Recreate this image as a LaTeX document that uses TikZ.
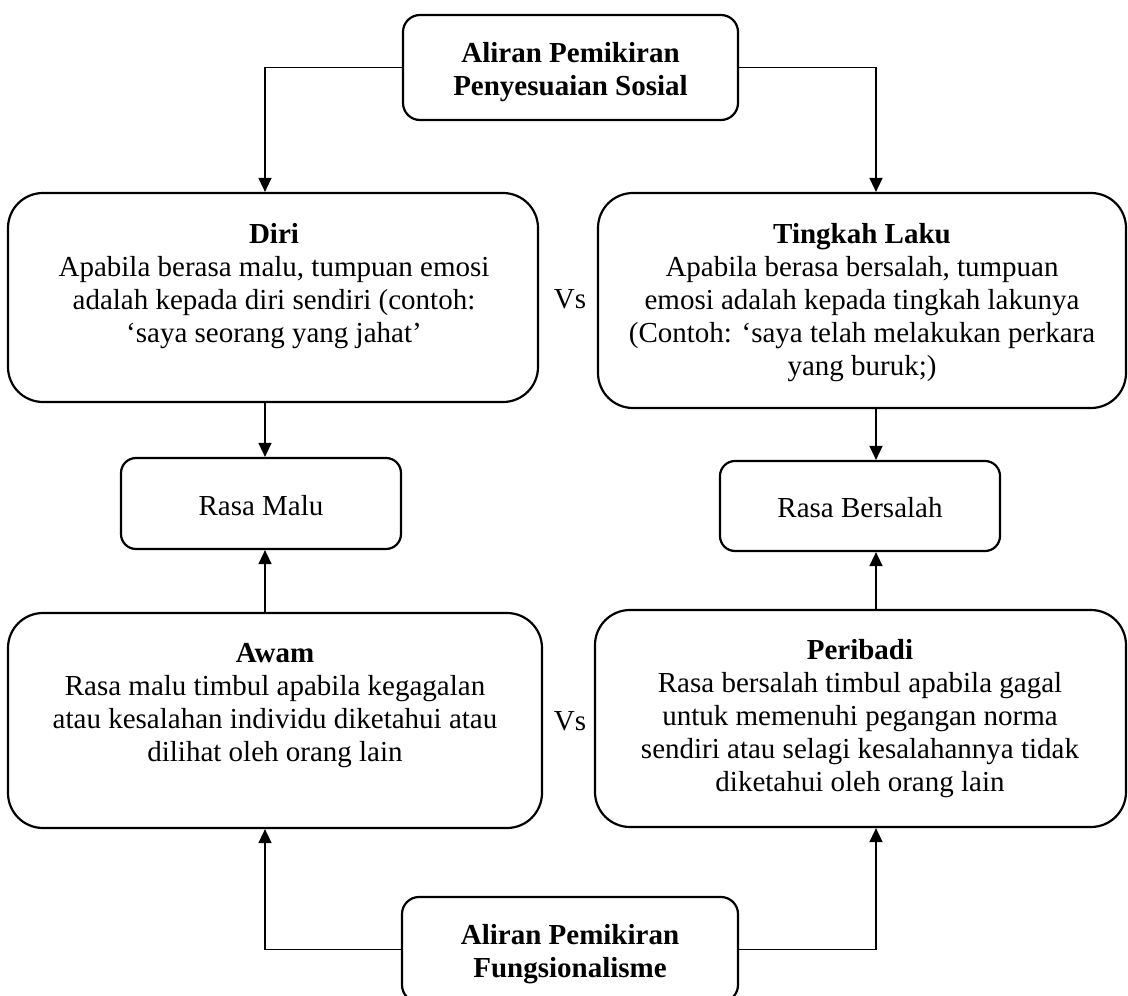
\documentclass[tikz,border=0pt]{standalone}
\usepackage{fontspec}
\setmainfont{Liberation Serif}
\usetikzlibrary{arrows.meta}
\begin{document}
\begin{tikzpicture}[x=1pt,y=-1pt,
  box/.style={draw, line width=2.2pt, rounded corners=#1, inner sep=0pt},
  box/.default=17pt,
  txt/.style={align=center, inner sep=0pt, anchor=base, font=\fontsize{29}{33}\selectfont},
  arr/.style={line width=1.5pt, -{Triangle[length=14pt,width=13pt]}}
]
\useasboundingbox (0,0) rectangle (1128,996);
\fill[white] (0,0) rectangle (1128,996);

% boxes
\node[box, minimum width=335pt, minimum height=105pt] (top) at (570.5,67.5) {};
\node[box=35pt, minimum width=530pt, minimum height=209pt] (diri) at (273,297.5) {};
\node[box=35pt, minimum width=528pt, minimum height=215pt] (tingkah) at (862,300.5) {};
\node[box=15pt, minimum width=280pt, minimum height=91pt] (malu) at (261,503.5) {};
\node[box=15pt, minimum width=280pt, minimum height=90pt] (bersalah) at (860,506) {};
\node[box=35pt, minimum width=534pt, minimum height=215pt] (awam) at (275,720.5) {};
\node[box=35pt, minimum width=531pt, minimum height=217pt] (peribadi) at (860.5,718.5) {};
\node[box, minimum width=336pt, minimum height=105pt] (bottom) at (570,949.5) {};

% texts (anchor base = baseline of last line)
\node[txt] (top-t) at (570.5,95) {\textbf{Aliran Pemikiran}\\\textbf{Penyesuaian Sosial}};
\node[txt] (diri-t) at (274,342) {\textbf{Diri}\\Apabila berasa malu, tumpuan emosi\\adalah kepada diri sendiri (contoh:\\‘saya seorang yang jahat’};
\node[txt] (tingkah-t) at (862,375) {\textbf{Tingkah Laku}\\Apabila berasa bersalah, tumpuan\\emosi adalah kepada tingkah lakunya\\(Contoh: ‘saya telah melakukan perkara\\yang buruk;)};
\node[txt] (malu-t) at (261,515) {Rasa Malu};
\node[txt] (bersalah-t) at (860,517) {Rasa Bersalah};
\node[txt] (awam-t) at (275,761) {\textbf{Awam}\\Rasa malu timbul apabila kegagalan\\atau kesalahan individu diketahui atau\\dilihat oleh orang lain};
\node[txt] (peribadi-t) at (860,791) {\textbf{Peribadi}\\Rasa bersalah timbul apabila gagal\\untuk memenuhi pegangan norma\\sendiri atau selagi kesalahannya tidak\\diketahui oleh orang lain};
\node[txt] (bottom-t) at (570,977) {\textbf{Aliran Pemikiran}\\\textbf{Fungsionalisme}};
\node[txt] (vs1) at (570,308) {Vs};
\node[txt] (vs2) at (570,730) {Vs};

% connector columns
\coordinate (xl) at (265,0);
\coordinate (xr) at (876,0);

\draw[arr] (top.west) -| (xl |- diri.north);
\draw[arr] (top.east) -| (xr |- tingkah.north);
\draw[arr] (xl |- diri.south) -- (xl |- malu.north);
\draw[arr] (xr |- tingkah.south) -- (xr |- bersalah.north);
\draw[arr] (xl |- awam.north) -- (xl |- malu.south);
\draw[arr] (xr |- peribadi.north) -- (xr |- bersalah.south);
\draw[arr] (bottom.west) -| (xl |- awam.south);
\draw[arr] (bottom.east) -| (xr |- peribadi.south);
\end{tikzpicture}
\end{document}
